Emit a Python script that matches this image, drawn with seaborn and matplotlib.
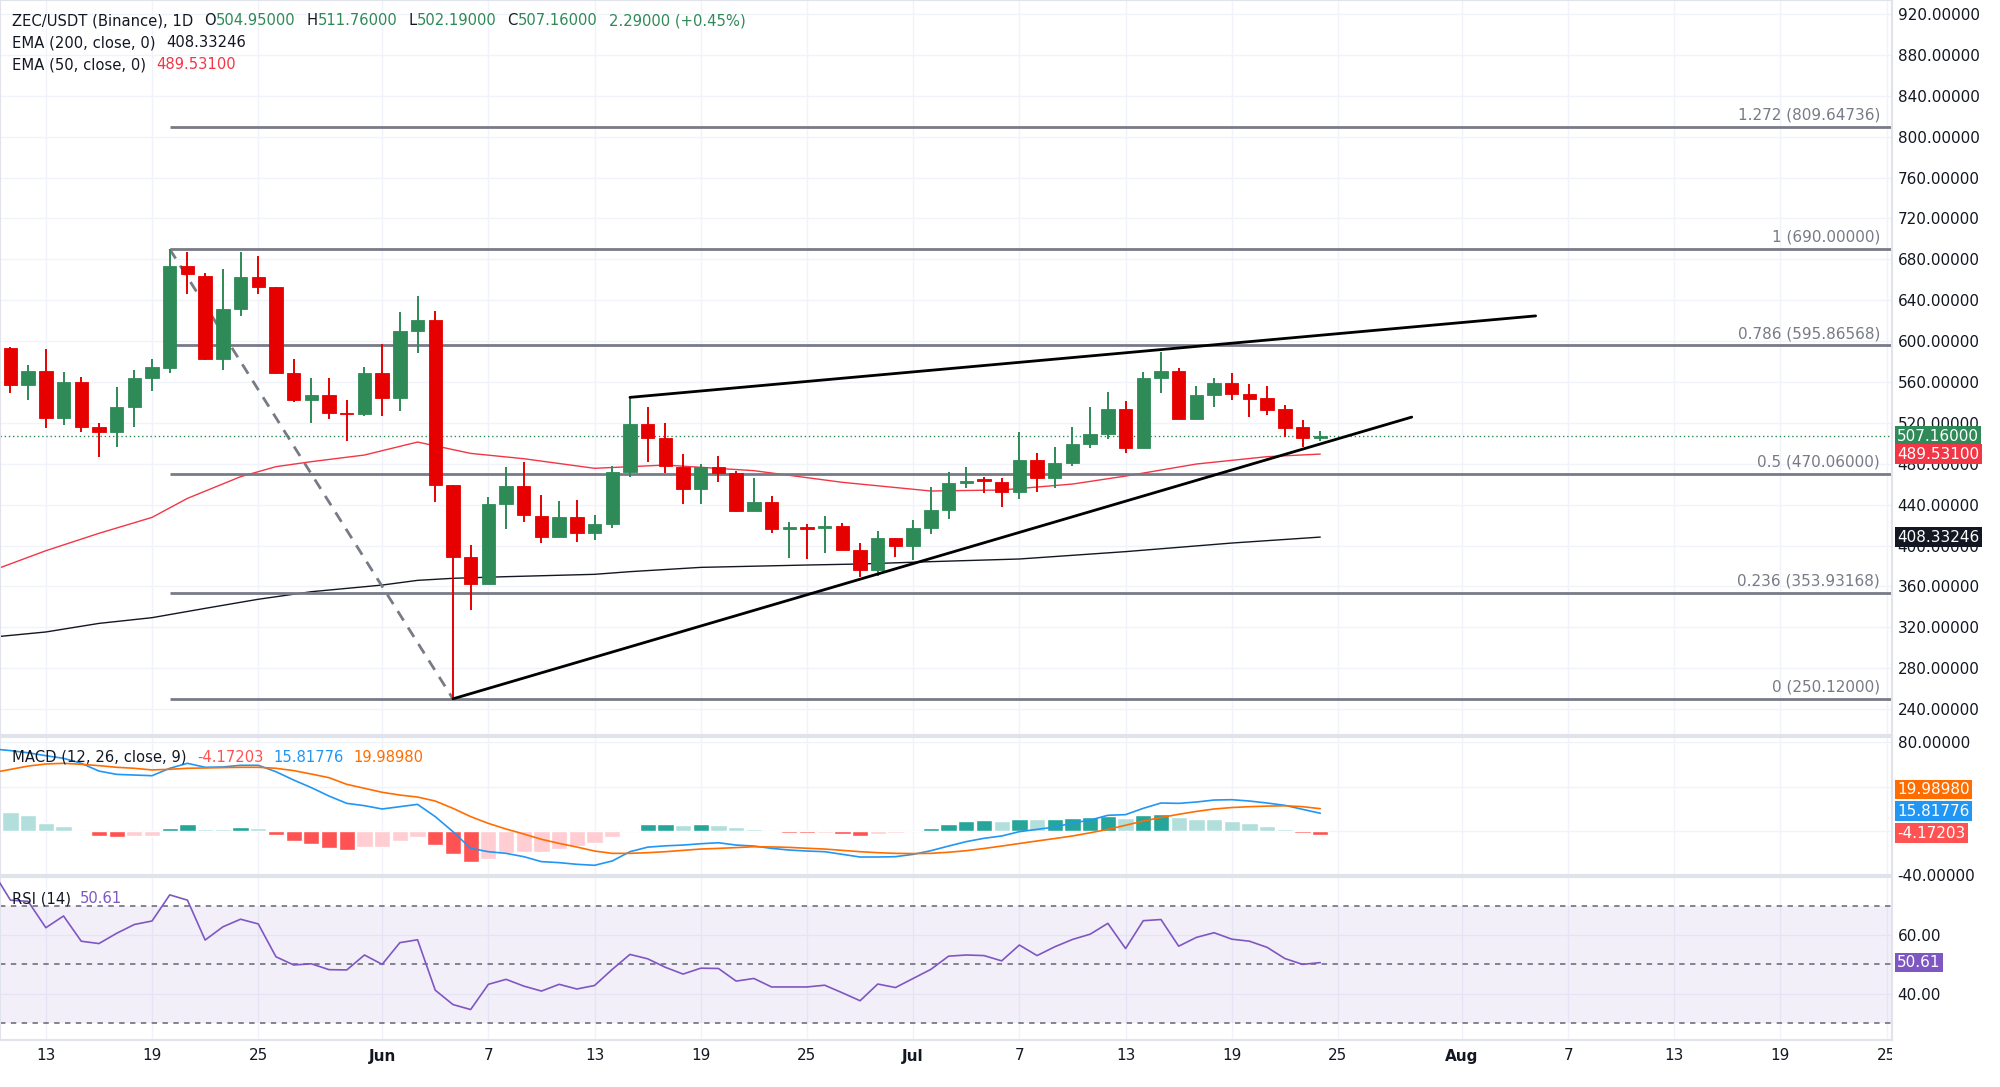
import numpy as np
import pandas as pd
import matplotlib
matplotlib.use('Agg')
import matplotlib.pyplot as plt
import matplotlib.dates as mdates
from matplotlib.transforms import Bbox, TransformedBbox, blended_transform_factory
import seaborn as sns

# --- ローソク足 (2025-05-11 〜 2025-07-24, 日足) ---
candle_start = '2025-05-11'
opens = [592.9, 557.1, 571.1, 524.5, 560.3, 515.7, 511.4, 535.9, 563.6, 574.0, 673.5, 664.0, 582.5, 631.1,
         662.7, 652.6, 568.5, 542.4, 547.3, 530.0, 528.4,
         569.2, 544.0, 610.2, 620.7, 459.2, 389.2, 362.1, 440.4, 458.6, 429.3, 408.7, 428.3, 412.0, 420.8,
         472.3, 518.9, 504.9, 477.2, 455.4, 476.5, 471.3, 434.2, 442.3, 416.6, 417.8, 417.0, 419.5, 395.7,
         376.1, 407.1,
         399.9, 417.5, 434.8, 461.6, 464.8, 461.9, 452.8, 483.7, 465.8, 481.1, 499.1, 508.9, 533.3, 495.8,
         564.3, 570.8, 523.9, 547.3, 558.7, 548.3, 544.1, 533.3, 515.7, 504.95]
highs = [594.6, 576.6, 592.3, 569.5, 565.2, 519.6, 555.5, 571.8, 582.5, 690.0, 687.5, 666.3, 670.2, 687.5,
         683.6, 653.0, 582.5, 564.3, 563.6, 542.4, 575.0,
         597.2, 628.8, 644.5, 629.8, 459.2, 400.6, 447.2, 476.5, 482.1, 449.5, 443.6, 444.6, 429.9, 477.9,
         545.0, 535.2, 520.2, 489.6, 479.8, 487.6, 473.0, 465.8, 448.5, 423.4, 420.8, 429.0, 422.4, 402.2,
         414.3, 407.1,
         425.1, 457.0, 472.3, 476.6, 467.4, 465.8, 511.5, 490.9, 496.8, 516.4, 535.3, 549.9, 541.8, 570.2,
         589.1, 573.4, 556.5, 563.6, 568.5, 557.8, 556.5, 537.6, 522.9, 511.76]
lows = [549.0, 542.4, 514.7, 518.0, 511.1, 487.0, 496.8, 516.3, 551.2, 569.2, 645.8, 581.5, 571.8, 624.6,
        645.8, 567.8, 540.8, 519.6, 523.8, 502.6, 527.1,
        527.1, 532.0, 588.1, 443.0, 250.12, 337.0, 362.1, 415.9, 423.4, 402.2, 408.7, 403.8, 405.5, 416.9,
        466.8, 482.1, 471.3, 440.4, 440.4, 461.9, 432.5, 434.2, 412.0, 388.2, 386.9, 392.4, 395.7, 369.0,
        370.3, 389.2,
        385.9, 411.4, 425.7, 456.0, 451.8, 438.1, 445.3, 452.8, 456.0, 477.9, 495.2, 504.0, 490.9, 495.2,
        549.6, 523.9, 523.9, 535.3, 542.4, 526.1, 527.8, 506.6, 496.8, 502.19]
closes = [557.1, 571.1, 524.5, 560.3, 515.7, 511.4, 535.9, 563.6, 574.4, 673.5, 665.3, 582.5, 631.1, 662.7,
          652.6, 568.5, 542.4, 547.3, 530.0, 528.4, 569.2,
          544.0, 610.2, 620.7, 459.2, 389.2, 362.1, 440.4, 458.6, 429.9, 408.7, 428.3, 412.0, 420.8, 472.3,
          518.9, 504.9, 477.9, 455.4, 476.5, 471.3, 434.2, 442.3, 416.2, 417.8, 416.6, 419.5, 395.7, 376.1,
          407.1, 399.9,
          416.9, 434.8, 460.9, 463.5, 463.3, 452.8, 483.7, 465.8, 481.1, 499.1, 508.9, 533.3, 495.2, 564.3,
          570.8, 523.9, 547.3, 559.4, 548.3, 543.4, 532.7, 515.4, 505.0, 507.16]

# --- EMA (画像から読み取った点) ---
ema50_dates = ['2025-05-10', '2025-05-13', '2025-05-16', '2025-05-19', '2025-05-21', '2025-05-24',
               '2025-05-26', '2025-05-28', '2025-05-31', '2025-06-03', '2025-06-06', '2025-06-09',
               '2025-06-13', '2025-06-17', '2025-06-22', '2025-06-27', '2025-07-02', '2025-07-06',
               '2025-07-10', '2025-07-13', '2025-07-17', '2025-07-21', '2025-07-24']
ema50_vals = [375.7, 395.0, 412.0, 427.6, 446.2, 467.4, 477.2, 482.1, 488.6, 501.3, 490.2, 485.0,
              475.6, 478.8, 473.3, 461.9, 453.4, 454.4, 460.2, 468.0, 479.8, 487.0, 489.53]
ema200_dates = ['2025-05-10', '2025-05-13', '2025-05-16', '2025-05-19', '2025-05-22', '2025-05-25',
                '2025-05-28', '2025-06-01', '2025-06-03', '2025-06-05', '2025-06-08', '2025-06-13',
                '2025-06-15', '2025-06-19', '2025-06-25', '2025-06-28', '2025-07-02', '2025-07-07',
                '2025-07-13', '2025-07-19', '2025-07-24']
ema200_vals = [310.5, 315.5, 323.9, 329.5, 338.6, 347.5, 354.9, 361.4, 366.0, 368.0, 369.6, 371.9,
               374.5, 378.7, 381.0, 382.0, 384.3, 386.9, 394.1, 402.5, 408.33]

# --- インジケーター (2025-05-10 〜 2025-07-24, 日次) ---
ind_start = '2025-05-10'
macd_line = [74.0, 72.5, 70.5, 67.9, 65.5, 61.0, 54.0, 51.0, 50.4, 49.8, 56.5, 61.0, 57.4, 57.7, 59.2,
             59.2, 53.4, 45.9, 39.0, 31.4, 24.8, 22.7,
             19.7, 21.8, 23.9, 12.8, -0.8, -15.9, -18.9, -20.4, -23.4, -27.9, -28.8, -30.3, -31.2, -27.3,
             -18.9, -14.8, -13.6, -12.9, -11.7, -10.8, -12.9, -13.8, -15.9, -17.4, -18.3, -18.9, -21.3,
             -23.7, -23.7, -23.4,
             -21.3, -18.0, -13.8, -9.8, -6.8, -4.7, -0.8, 1.3, 3.4, 7.0, 9.7, 14.0, 14.6, 20.3, 25.1, 24.8,
             26.0, 27.8, 28.1, 26.9, 25.1, 23.0, 19.4, 15.82]
macd_signal = [52.5, 55.5, 58.5, 60.4, 61.0, 60.1, 58.9, 57.4, 56.5, 55.0, 55.6, 56.5, 56.8, 57.1, 57.4,
               57.4, 56.5, 54.4, 51.3, 48.0, 42.0, 38.4,
               34.8, 32.3, 30.5, 26.9, 20.3, 12.8, 6.7, 1.6, -2.9, -7.7, -11.4, -14.7, -18.3, -20.4, -20.4,
               -19.8, -18.9, -17.7, -16.5, -15.9, -15.2, -14.4, -14.6, -15.0, -15.8, -16.5, -17.7, -18.9,
               -19.8, -20.4,
               -20.6, -20.4, -19.4, -18.0, -16.0, -13.8, -11.5, -9.2, -7.0, -4.7, -1.8, 1.3, 5.0, 8.8,
               12.0, 14.9, 17.5, 19.7, 21.0, 21.8, 22.3, 22.6, 21.8, 19.99]
macd_hist = [20.0, 17.3, 14.0, 7.3, 4.3, -1.4, -4.7, -5.9, -4.7, -4.4, 2.5, 5.8, 1.9, 1.7, 3.4, 2.5,
             -3.5, -9.6, -12.3, -15.3, -17.1, -14.7,
             -14.4, -9.6, -5.6, -12.9, -21.3, -28.2, -25.2, -19.8, -19.5, -18.9, -16.2, -14.1, -11.4, -5.3,
             1.0, 5.8, 6.1, 4.9, 5.8, 5.5, 3.4, 1.9, -1.1, -2.0, -2.1, -1.6, -3.2, -4.4, -3.2, -2.0,
             -0.3, 2.5, 6.1, 8.5, 9.7, 9.1, 11.0, 10.4, 10.5, 11.6, 12.5, 13.7, 11.6, 14.0, 15.2, 12.5,
             11.0, 10.3, 8.5, 6.7, 4.3, 1.6, -2.0, -4.17]
rsi_vals = [81.7, 71.9, 71.5, 62.5, 66.5, 57.9, 57.1, 60.6, 63.6, 64.8, 73.7, 71.9, 58.3, 62.8, 65.4,
            63.8, 52.6, 49.8, 50.2, 48.2, 48.1, 53.2,
            50.0, 57.4, 58.4, 41.2, 36.3, 34.6, 43.2, 44.9, 42.6, 40.9, 43.2, 41.6, 42.8, 48.3, 53.4, 51.9,
            49.0, 46.7, 48.7, 48.6, 44.3, 45.2, 42.3, 42.3, 42.3, 42.9, 40.3, 37.6, 43.3, 42.1,
            45.2, 48.3, 52.8, 53.2, 53.0, 51.2, 56.6, 53.0, 56.0, 58.5, 60.3, 64.0, 55.4, 64.9, 65.3, 56.2,
            59.2, 60.8, 58.6, 57.9, 55.8, 52.0, 50.0, 50.61]

# --- フィボナッチ・トレンドライン ---
fib_ratios = ['0', '0.236', '0.5', '0.786', '1', '1.272']
fib_levels = [250.12, 353.93168, 470.06, 595.86568, 690.0, 809.64736]
fib_start = '2025-05-20'
swing_dates = ['2025-05-20', '2025-06-05']
swing_prices = [690.0, 250.12]
upper_dates = ['2025-06-15 00:00', '2025-08-05 04:00']
upper_prices = [545.0, 624.7]
lower_dates = ['2025-06-05 00:00', '2025-07-29 04:00']
lower_prices = [250.12, 525.7]

tick_dates = ['2025-05-13', '2025-05-19', '2025-05-25', '2025-06-01', '2025-06-07', '2025-06-13',
              '2025-06-19', '2025-06-25', '2025-07-01', '2025-07-07', '2025-07-13', '2025-07-19',
              '2025-07-25', '2025-08-01', '2025-08-07', '2025-08-13', '2025-08-19', '2025-08-25']
tick_labels = ['13', '19', '25', 'Jun', '7', '13', '19', '25', 'Jul', '7', '13', '19', '25', 'Aug',
               '7', '13', '19', '25']

last_ohlc = ['504.95000', '511.76000', '502.19000', '507.16000']
last_change = '2.29000 (+0.45%)'

# --- 色 ---
GREEN = '#2e8a57'
RED = '#e60000'
TXT = '#131722'
GRID = '#f0f3fa'
FIBC = '#787b86'

sns.set_style('white')
plt.rcParams['font.family'] = ['DejaVu Sans']


def num(d):
    return mdates.date2num(pd.to_datetime(d, format='mixed'))


cx = mdates.date2num(pd.date_range(candle_start, periods=len(opens), freq='D'))
ix = mdates.date2num(pd.date_range(ind_start, periods=len(macd_line), freq='D'))
x0 = num('2025-05-13') - 2.59
x1 = num('2025-05-13') + 104.3

fig = plt.figure(figsize=(20, 10.87), dpi=100)
fig.patch.set_facecolor('white')
AXW = 0.946
ax_p = fig.add_axes([0, 0.3238, AXW, 0.6762])
ax_m = fig.add_axes([0, 0.1950, AXW, 0.1270])
ax_r = fig.add_axes([0, 0.0432, AXW, 0.1500])

for ax in (ax_p, ax_m, ax_r):
    ax.set_xlim(x0, x1)
    ax.set_xticks(num(tick_dates))
    ax.grid(True, color=GRID, lw=1)
    ax.set_axisbelow(True)
    ax.yaxis.tick_right()
    ax.tick_params(axis='y', length=0, pad=4, labelsize=11, labelcolor=TXT)
    ax.tick_params(axis='x', length=0, labelbottom=False)
    for sp in ax.spines.values():
        sp.set_color('#e0e3eb')
        sp.set_linewidth(1.5)

# ---------- 価格 ----------
ax_p.set_ylim(214.7, 933.7)
ax_p.set_yticks(list(range(240, 921, 40)))
ax_p.set_yticklabels([f'{v:.5f}' for v in range(240, 921, 40)])

cols = [GREEN if c >= o else RED for o, c in zip(opens, closes)]
o = np.array(opens); c = np.array(closes)
body_lo = np.minimum(o, c)
body_h = np.maximum(np.abs(c - o), 1.2)
ax_p.vlines(cx, lows, highs, colors=cols, lw=1.4, zorder=3)
ax_p.bar(cx, body_h, bottom=body_lo, width=0.76, color=cols, edgecolor=cols, lw=0.6, zorder=4)

sns.lineplot(x=num(ema50_dates), y=ema50_vals, ax=ax_p, color='#f23645', linewidth=1.0,
             legend=False, sort=False, zorder=2)
sns.lineplot(x=num(ema200_dates), y=ema200_vals, ax=ax_p, color=TXT, linewidth=1.0,
             legend=False, sort=False, zorder=2)

for r, lv in zip(fib_ratios, fib_levels):
    ax_p.hlines(lv, num(fib_start), x1, color=FIBC, lw=2.0, zorder=2)
    ax_p.annotate(f'{r} ({lv:.5f})', xy=(1880 / 1892, lv), xycoords=('axes fraction', 'data'),
                  xytext=(0, 3), textcoords='offset points', ha='right', va='bottom',
                  fontsize=11, color=FIBC)

ax_p.plot(num(swing_dates), swing_prices, color=FIBC, lw=2.0, ls=(0, (4, 3)), zorder=2)
ax_p.plot(num(upper_dates), upper_prices, color='black', lw=2.0, solid_capstyle='round', zorder=5)
ax_p.plot(num(lower_dates), lower_prices, color='black', lw=2.0, solid_capstyle='round', zorder=5)
ax_p.axhline(closes[-1], color=GREEN, lw=1.0, ls=(0, (1, 2)), zorder=2)

# ---------- MACD ----------
ax_m.set_ylim(-40.0, 84.8)
ax_m.set_yticks([80, 40, 0, -40])
# 40 と 0 のラベルは右側の値ボックスの下に隠れている
ax_m.set_yticklabels(['80.00000', '', '', '-40.00000'])
h = np.array(macd_hist)
prev = np.concatenate([[h[0]], h[:-1]])
hcols = []
for v, p in zip(h, prev):
    if v >= 0:
        hcols.append('#26a69a' if v > p else '#b2dfdb')
    else:
        hcols.append('#ff5252' if v < p else '#ffcdd2')
ax_m.bar(ix, h, width=0.92, color=hcols, zorder=2)
sns.lineplot(x=ix, y=macd_line, ax=ax_m, color='#2196f3', linewidth=1.2, legend=False, sort=False, zorder=3)
sns.lineplot(x=ix, y=macd_signal, ax=ax_m, color='#ff6d00', linewidth=1.2, legend=False, sort=False, zorder=3)

# ---------- RSI ----------
ax_r.set_ylim(24.2, 79.8)
ax_r.set_yticks([40, 60])
ax_r.set_yticklabels(['40.00', '60.00'])
ax_r.axhspan(30, 70, color='#7e57c2', alpha=0.09, lw=0, zorder=1)
for lv in (70, 50, 30):
    ax_r.axhline(lv, color=FIBC, lw=1.3, ls=(0, (3, 3)), zorder=2)
sns.lineplot(x=ix, y=rsi_vals, ax=ax_r, color='#7e57c2', linewidth=1.2, legend=False, sort=False, zorder=3)

for ax in (ax_p, ax_m, ax_r):
    ax.set_xlabel('')
    ax.set_ylabel('')

# 日付ラベル (右端の "25" はチャート領域の端で切れる)
clip = TransformedBbox(Bbox([[0, 0], [AXW, 1]]), fig.transFigure)
dtr = blended_transform_factory(ax_r.transData, fig.transFigure)
for d, lab in zip(tick_dates, tick_labels):
    t = fig.text(num(d), 1 - 1056 / 1087, lab, transform=dtr, ha='center', va='center', fontsize=11,
                 color=TXT, fontweight='bold' if lab in ('Jun', 'Jul', 'Aug') else 'normal')
    t.set_clip_on(True)
    t.set_clip_box(clip)


# ---------- 右側の値ラベル ----------
def value_box(ax, y, text, color):
    tr = blended_transform_factory(ax.transAxes, ax.transData)
    ax.text(1.0028, y, text, transform=tr, ha='left', va='center', fontsize=11, color='white',
            bbox=dict(boxstyle='square,pad=0.14', fc=color, ec='none'), clip_on=False, zorder=20)


value_box(ax_p, 507.16, '507.16000', GREEN)
value_box(ax_p, 489.531, '489.53100', '#f23645')
value_box(ax_p, 408.33246, '408.33246', TXT)
value_box(ax_m, 37.3, '19.98980', '#ff6d00')
value_box(ax_m, 17.8, '15.81776', '#2196f3')
value_box(ax_m, -2.0, '-4.17203', '#ff5252')
value_box(ax_r, 50.61, '50.61', '#7e57c2')


# ---------- 左上の凡例 ----------
def text_row(ax, x, y, parts, size):
    t = ax.text(x, y, parts[0][0], color=parts[0][1], fontsize=size, transform=ax.transAxes,
                va='center', ha='left', zorder=10)
    for s, col, gap in parts[1:]:
        t = ax.annotate(s, xy=(1, 0.5), xycoords=t, xytext=(gap, 0), textcoords='offset points',
                        va='center', ha='left', color=col, fontsize=size, zorder=10)


FS = 10.6
text_row(ax_p, 11.5 / 1892, 1 - 20.5 / 735,
         [('ZEC/USDT (Binance), 1D', TXT), ('O', TXT, 8), (last_ohlc[0], GREEN, 0),
          ('H', TXT, 8), (last_ohlc[1], GREEN, 0), ('L', TXT, 8), (last_ohlc[2], GREEN, 0),
          ('C', TXT, 8), (last_ohlc[3], GREEN, 0), (last_change, GREEN, 8)], FS)
text_row(ax_p, 11.5 / 1892, 1 - 42.5 / 735,
         [('EMA (200, close, 0)', TXT), ('408.33246', TXT, 8)], FS)
text_row(ax_p, 11.5 / 1892, 1 - 64.5 / 735,
         [('EMA (50, close, 0)', TXT), ('489.53100', '#f23645', 8)], FS)
text_row(ax_m, 11.5 / 1892, 1 - 20.5 / 138,
         [('MACD (12, 26, close, 9)', TXT), ('-4.17203', '#ff5252', 8),
          ('15.81776', '#2196f3', 7), ('19.98980', '#ff6d00', 7)], FS)
text_row(ax_r, 11.5 / 1892, 1 - 22 / 163,
         [('RSI (14)', TXT), ('50.61', '#7e57c2', 7)], FS)

fig.savefig('out.png', dpi=100, facecolor='white')
